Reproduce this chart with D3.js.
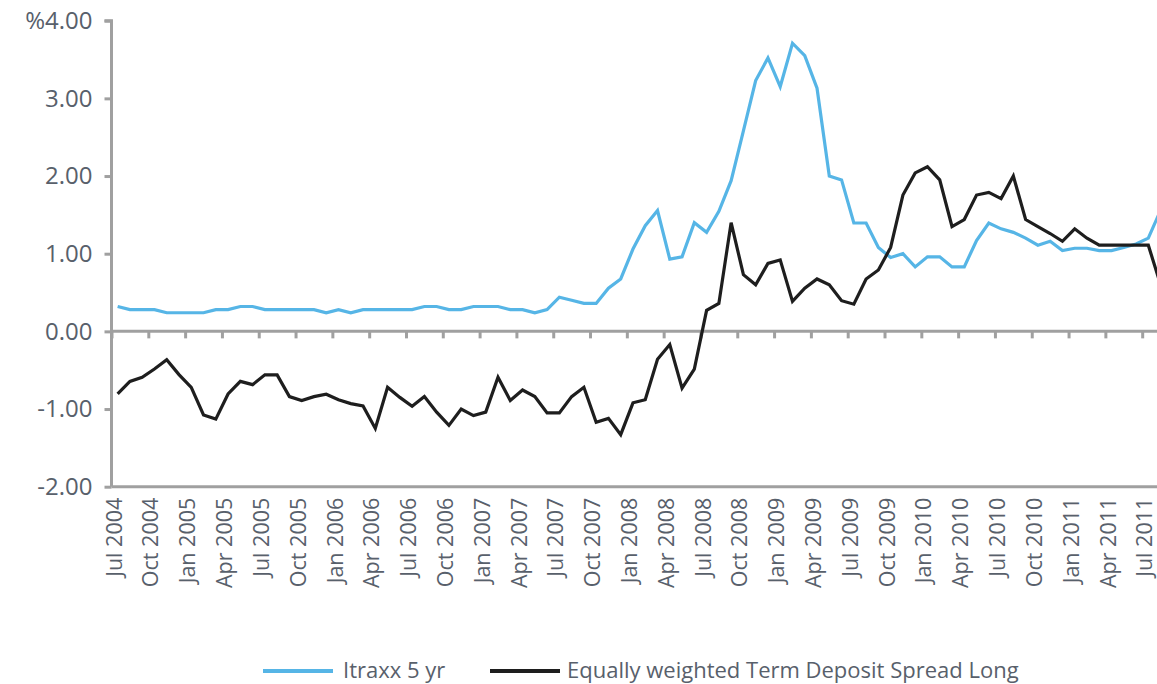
<!DOCTYPE html>
<html><head><meta charset="utf-8">
<script src="https://cdn.jsdelivr.net/npm/d3@7"></script>
<style>html,body{margin:0;padding:0;background:#fff;overflow:hidden}</style>
</head><body><svg id="c" width="1157" height="684"></svg>
<script>
// Monthly categories: Jul 2004 .. Aug 2011 (86 months)
const startMonth = new Date(2004, 6, 1);
const months = d3.timeMonths(startMonth, new Date(2011, 8, 1));
const tickLabels = ["Jul 2004","Oct 2004","Jan 2005","Apr 2005","Jul 2005","Oct 2005","Jan 2006","Apr 2006","Jul 2006","Oct 2006","Jan 2007","Apr 2007","Jul 2007","Oct 2007","Jan 2008","Apr 2008","Jul 2008","Oct 2008","Jan 2009","Apr 2009","Jul 2009","Oct 2009","Jan 2010","Apr 2010","Jul 2010","Oct 2010","Jan 2011","Apr 2011","Jul 2011"];
const yTicks = [-2, -1, 0, 1, 2, 3, 4];
const seriesNames = ["Itraxx 5 yr", "Equally weighted Term Deposit Spread Long"];
const itraxx = [0.32,0.28,0.28,0.28,0.24,0.24,0.24,0.24,0.28,0.28,
 0.32,0.32,0.28,0.28,0.28,0.28,0.28,0.24,0.28,0.24,
 0.28,0.28,0.28,0.28,0.28,0.32,0.32,0.28,0.28,0.32,
 0.32,0.32,0.28,0.28,0.24,0.28,0.44,0.40,0.36,0.36,
 0.555,0.675,1.06,1.36,1.555,0.93,0.96,1.40,1.275,1.545,
 1.94,2.58,3.23,3.52,3.15,3.71,3.55,3.13,2.00,1.95,
 1.395,1.395,1.08,0.95,1.00,0.83,0.96,0.96,0.83,0.83,
 1.17,1.395,1.32,1.275,1.20,1.11,1.16,1.04,1.07,1.07,
 1.04,1.04,1.08,1.125,1.20,1.56];
const termSpread = [-0.806,-0.644,-0.592,-0.485,-0.364,-0.557,-0.72,-1.077,-1.13,-0.806,
 -0.644,-0.686,-0.56,-0.56,-0.84,-0.89,-0.84,-0.81,-0.88,-0.93,
 -0.96,-1.25,-0.72,-0.85,-0.965,-0.84,-1.04,-1.21,-1.00,-1.085,
 -1.04,-0.59,-0.89,-0.755,-0.84,-1.05,-1.05,-0.84,-0.72,-1.17,
 -1.12,-1.33,-0.92,-0.88,-0.36,-0.17,-0.73,-0.485,0.27,0.36,
 1.40,0.73,0.60,0.875,0.92,0.386,0.555,0.675,0.60,0.395,
 0.35,0.675,0.79,1.08,1.755,2.04,2.12,1.95,1.35,1.44,
 1.755,1.79,1.71,2.00,1.44,1.35,1.26,1.16,1.32,1.20,
 1.11,1.11,1.11,1.11,1.11,0.60];
const colors = ["#56b5e6", "#1e1e1e"];

const svg = d3.select("#c");
const textColor = "#58606b", axisColor = "#a0a0a0";
const font = "'Open Sans', sans-serif";

const x0 = 111.5, step = 12.27;
const xi = d3.scaleLinear().domain([0, months.length]).range([x0, x0 + months.length * step]);
const y = d3.scaleLinear().domain([-2, 4]).range([486.7, 20.7]);
const fmt = d => (d === 4 ? "%" : "") + d3.format(".2f")(d).replace("\u2212", "-");

// Y axis
const yAxis = svg.append("g").attr("transform", `translate(${x0},0)`)
  .call(d3.axisLeft(y).tickValues(yTicks).tickSize(7).tickPadding(12).tickFormat(fmt));
yAxis.select(".domain").attr("d", `M-7,${y(4)}H0V${y(-2)}`);

// Bottom line (-2) with month labels
const xLab = svg.append("g").attr("transform", `translate(0,${y(-2)})`)
  .call(d3.axisBottom(xi).tickValues(tickLabels.map((d, k) => k * 3 + 0.5)).tickSize(0)
    .tickFormat((d, k) => tickLabels[k]));
xLab.select(".domain").attr("d", `M${x0},0H1200`);
xLab.selectAll(".tick text")
  .attr("transform", "rotate(-90)")
  .attr("text-anchor", "end")
  .attr("x", -11).attr("y", -4).attr("dy", "0.35em");

// Zero axis with quarterly tick marks
const zAxis = svg.append("g").attr("transform", `translate(0,${y(0)})`)
  .call(d3.axisBottom(xi).tickValues(d3.range(0, months.length, 3)).tickSize(7).tickFormat(""));
zAxis.select(".domain").attr("d", `M${x0},0H1200`);

svg.selectAll(".domain").attr("stroke", axisColor).attr("stroke-width", 3).attr("fill", "none");
svg.selectAll(".tick line").attr("stroke", axisColor).attr("stroke-width", 3);
svg.selectAll(".tick text").attr("fill", textColor).attr("font-family", font);
yAxis.selectAll(".tick text").attr("font-size", 24);
xLab.selectAll(".tick text").attr("font-size", 21.5);

// Lines
const line = d3.line().x((d, i) => xi(i + 0.5)).y(d => y(d));
[itraxx, termSpread].forEach((s, k) => {
  svg.append("path").datum(s).attr("d", line)
    .attr("fill", "none").attr("stroke", colors[k]).attr("stroke-width", 3.2)
    .attr("stroke-linejoin", "miter");
});

// Legend
const legendItems = [{x1: 263, x2: 333, tx: 343}, {x1: 490, x2: 560, tx: 567}];
legendItems.forEach((p, k) => {
  svg.append("line").attr("x1", p.x1).attr("x2", p.x2).attr("y1", 671).attr("y2", 671)
    .attr("stroke", colors[k]).attr("stroke-width", 4);
  svg.append("text").attr("x", p.tx).attr("y", 677.5).text(seriesNames[k])
    .attr("fill", textColor).attr("font-family", font).attr("font-size", 22);
});
</script></body></html>
